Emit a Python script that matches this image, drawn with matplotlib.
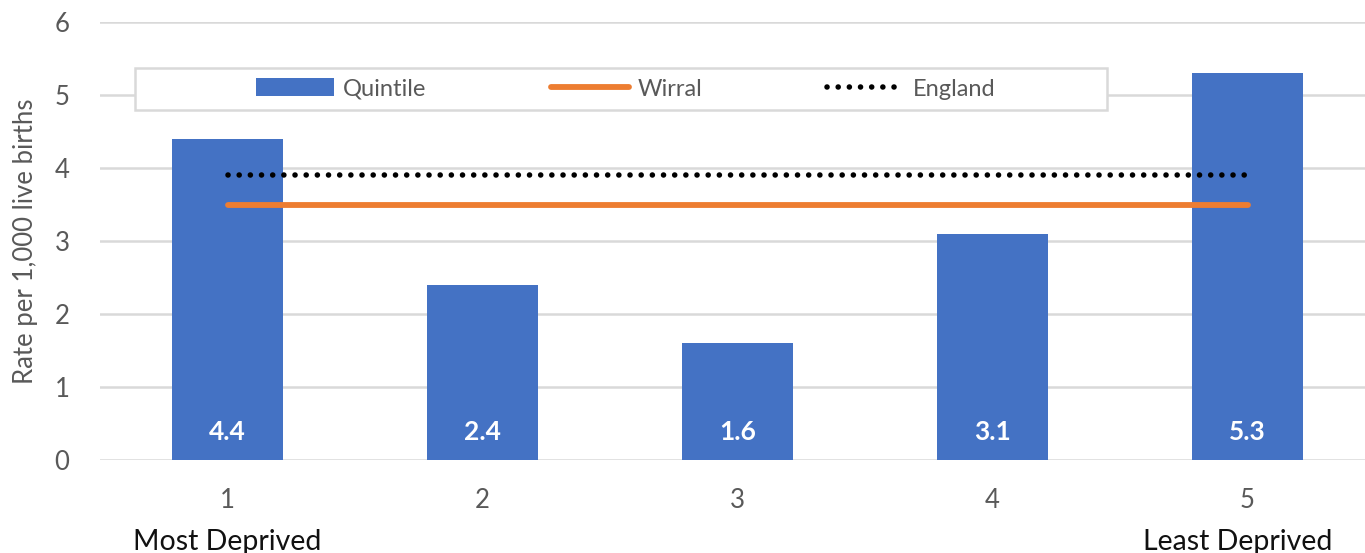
import numpy as np
import matplotlib.pyplot as plt
from matplotlib.patches import Rectangle

plt.rcParams['font.family'] = ['Lato', 'DejaVu Sans']

# data
quintiles = ['1', '2', '3', '4', '5']
rate = [4.4, 2.4, 1.6, 3.1, 5.3]
wirral = [3.5, 3.5, 3.5, 3.5, 3.5]
england = [3.9, 3.9, 3.9, 3.9, 3.9]

grey = '#595959'

fig = plt.figure(figsize=(13.65, 5.53), dpi=100)
ax = fig.add_axes([100/1365, 1 - 460/553, 1265/1365, 438/553])

x = np.arange(1, len(quintiles) + 1)
bars = ax.bar(x, rate, width=0.435, color='#4472C4', label='Quintile', zorder=2)
lw_line, = ax.plot(x, wirral, color='#ED7D31', lw=4.2, solid_capstyle='round',
                   label='Wirral', zorder=3)
le_line, = ax.plot(x, england, color='black', lw=4, linestyle=(0, (0.01, 2.0)),
                   dash_capstyle='round', label='England', zorder=4)

for xi, v in zip(x, rate):
    ax.text(xi, 0.38, f'{v:.1f}', ha='center', va='center', color='white',
            fontsize=19, fontweight='bold', zorder=5)

ax.set_xlim(0.5, 0.5 + 1265/255)
ax.set_ylim(0, 6)
ax.set_yticks(range(0, 7))
ax.set_xticks(x)
ax.set_xticklabels(quintiles)
ax.grid(axis='y', color='#d9d9d9', lw=1.8, zorder=0)
ax.set_axisbelow(True)
for s in ax.spines.values():
    s.set_visible(False)
ax.tick_params(length=0, labelsize=18.5, labelcolor=grey)
ax.tick_params(axis='y', pad=22)
ax.tick_params(axis='x', pad=20)
ax.set_ylabel('Rate per 1,000 live births', fontsize=18.5, color=grey, labelpad=12)

ax.text(1, -1.12, 'Most Deprived', ha='center', va='center', fontsize=20.5, color='#111111',
        clip_on=False)
ax.text(4.96, -1.12, 'Least Deprived', ha='center', va='center', fontsize=20.5, color='#111111',
        clip_on=False)

# legend box
bx, by, bw, bh = 35/1265, 0.799, 972/1265, 0.096
ax.add_patch(Rectangle((bx, by), bw, bh, transform=ax.transAxes, facecolor='white',
                       edgecolor='#d9d9d9', lw=1.8, zorder=6))
leg = ax.legend(handles=[bars, lw_line, le_line], loc='center',
                bbox_to_anchor=(bx + bw/2 + 0.004, by + bh/2), ncol=3,
                frameon=False, fontsize=17, handlelength=3.3, handleheight=0.8,
                columnspacing=5.3, handletextpad=0.35, labelcolor=grey)
leg.set_zorder(7)

fig.savefig('out.png', dpi=100)
